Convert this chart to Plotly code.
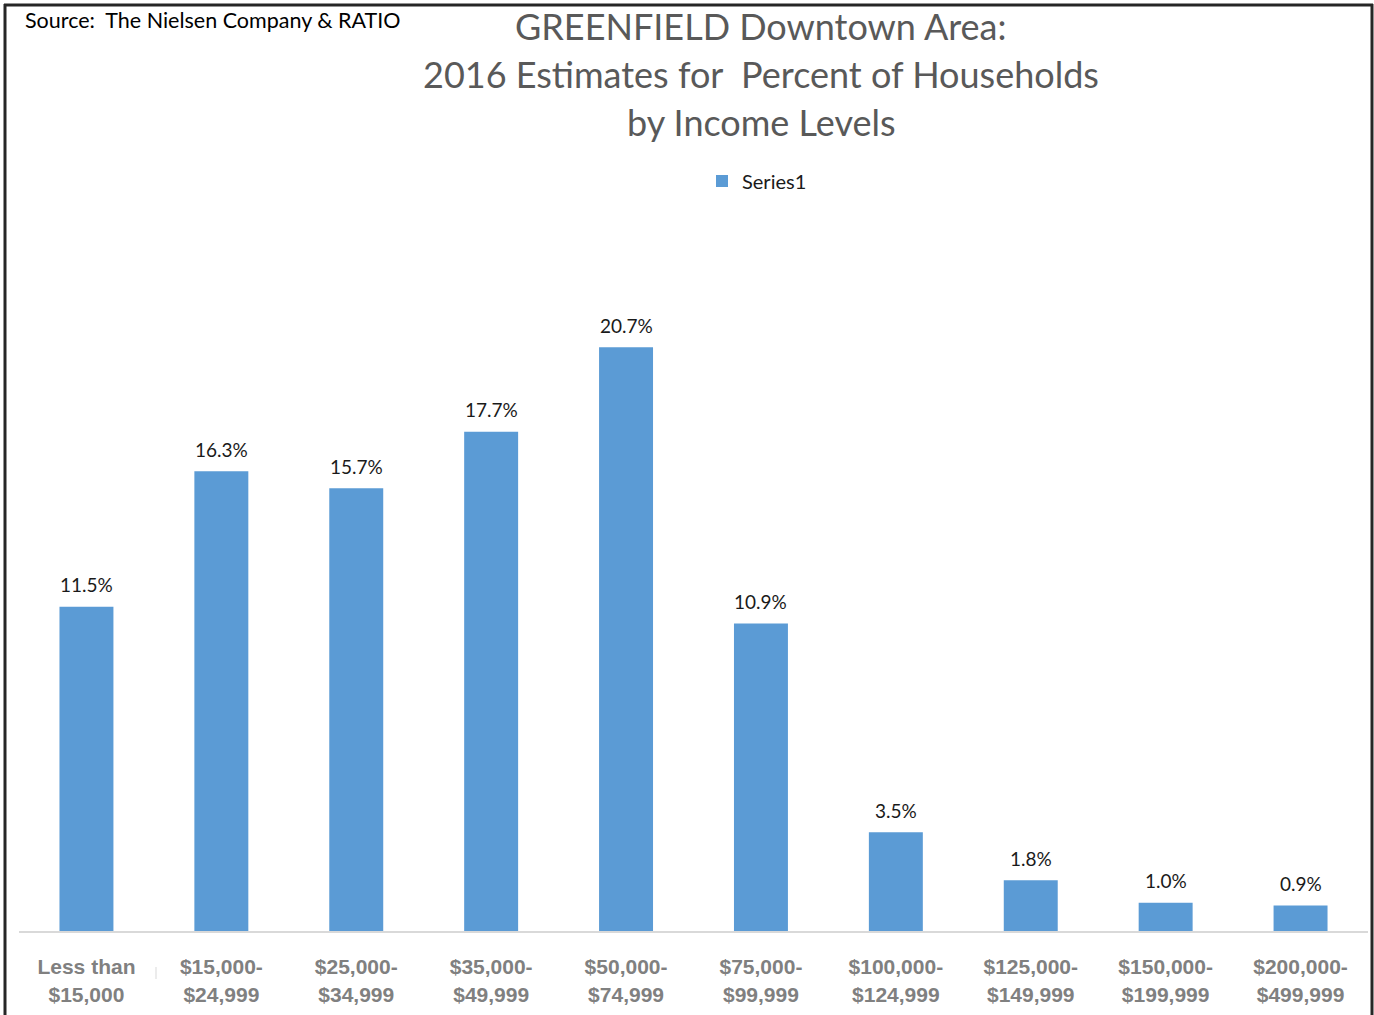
import plotly.graph_objects as go

categories = ["Less than<br>$15,000", "$15,000-<br>$24,999", "$25,000-<br>$34,999",
              "$35,000-<br>$49,999", "$50,000-<br>$74,999", "$75,000-<br>$99,999",
              "$100,000-<br>$124,999", "$125,000-<br>$149,999", "$150,000-<br>$199,999",
              "$200,000-<br>$499,999"]
values = [11.5, 16.3, 15.7, 17.7, 20.7, 10.9, 3.5, 1.8, 1.0, 0.9]
labels = [f"{v:.1f}%" for v in values]

W, H = 1374, 1015
L, R, T, B = 19, 1368, 226, 931   # plot area in pixels

def px(x):
    return (x - L) / (R - L)

def py(y):
    return (B - y) / (B - T)

fig = go.Figure()
fig.add_trace(go.Bar(
    x=list(range(len(values))), y=values, name="Series1",
    marker=dict(color="#5b9bd5", line=dict(width=0)),
    cliponaxis=False,
))

for i, (v, lab) in enumerate(zip(values, labels)):
    fig.add_annotation(x=i, y=v, xref="x", yref="y", text=lab, showarrow=False,
                       xanchor="center", yanchor="middle", yshift=22,
                       font=dict(family="Lato", size=19, color="#1a1a1a"))

fig.update_layout(
    width=W, height=H,
    margin=dict(l=L, r=W - R, t=T, b=H - B, pad=0),
    paper_bgcolor="white", plot_bgcolor="white",
    bargap=0.6,
    showlegend=True,
    legend=dict(orientation="h", x=px(757), y=py(181), xanchor="center", yanchor="middle",
                font=dict(family="Lato", size=20, color="#1a1a1a"),
                itemwidth=30, tracegroupgap=0),
    xaxis=dict(
        tickmode="array", tickvals=list(range(len(values))),
        ticktext=[f"<b>{c}</b>" for c in categories],
        tickfont=dict(family="Liberation Sans", size=21, color="#808080"),
        showline=True, linecolor="#d9d9d9", linewidth=2,
        showgrid=False, zeroline=False, ticks="", ticklabelstandoff=16,
        range=[-0.5, len(values) - 0.5],
    ),
    yaxis=dict(visible=False, range=[0, 25]),
)

title_lines = ["GREENFIELD Downtown Area:",
               "2016 Estimates for  Percent of Households",
               "by Income Levels"]
for i, line in enumerate(title_lines):
    fig.add_annotation(text=line, x=px(761), y=py(26 + 48 * i), xref="paper", yref="paper",
                       xanchor="center", yanchor="middle", showarrow=False,
                       font=dict(family="Lato", size=36, color="#595959"))

fig.add_annotation(text="Source:  The Nielsen Company & RATIO", x=px(23), y=py(20),
                   xref="paper", yref="paper", xanchor="left", yanchor="middle",
                   showarrow=False, font=dict(family="Lato", size=21.5, color="#000000"))

# small separator mark below the axis
fig.add_shape(type="line", xref="paper", yref="paper", x0=px(156), x1=px(156),
              y0=py(967), y1=py(979), line=dict(color="#d9d9d9", width=1))

# outer frame
frame = dict(type="line", xref="paper", yref="paper", line=dict(color="#262626", width=3))
fig.add_shape(**frame, x0=px(5), x1=px(5), y0=py(4), y1=py(1015))
fig.add_shape(**frame, x0=px(4), x1=px(1373), y0=py(5), y1=py(5))
fig.add_shape(**frame, x0=px(1372), x1=px(1372), y0=py(4), y1=py(1015))

fig.write_html("out.html", config={"displayModeBar": False},
               post_script="document.body.style.margin='0';")
